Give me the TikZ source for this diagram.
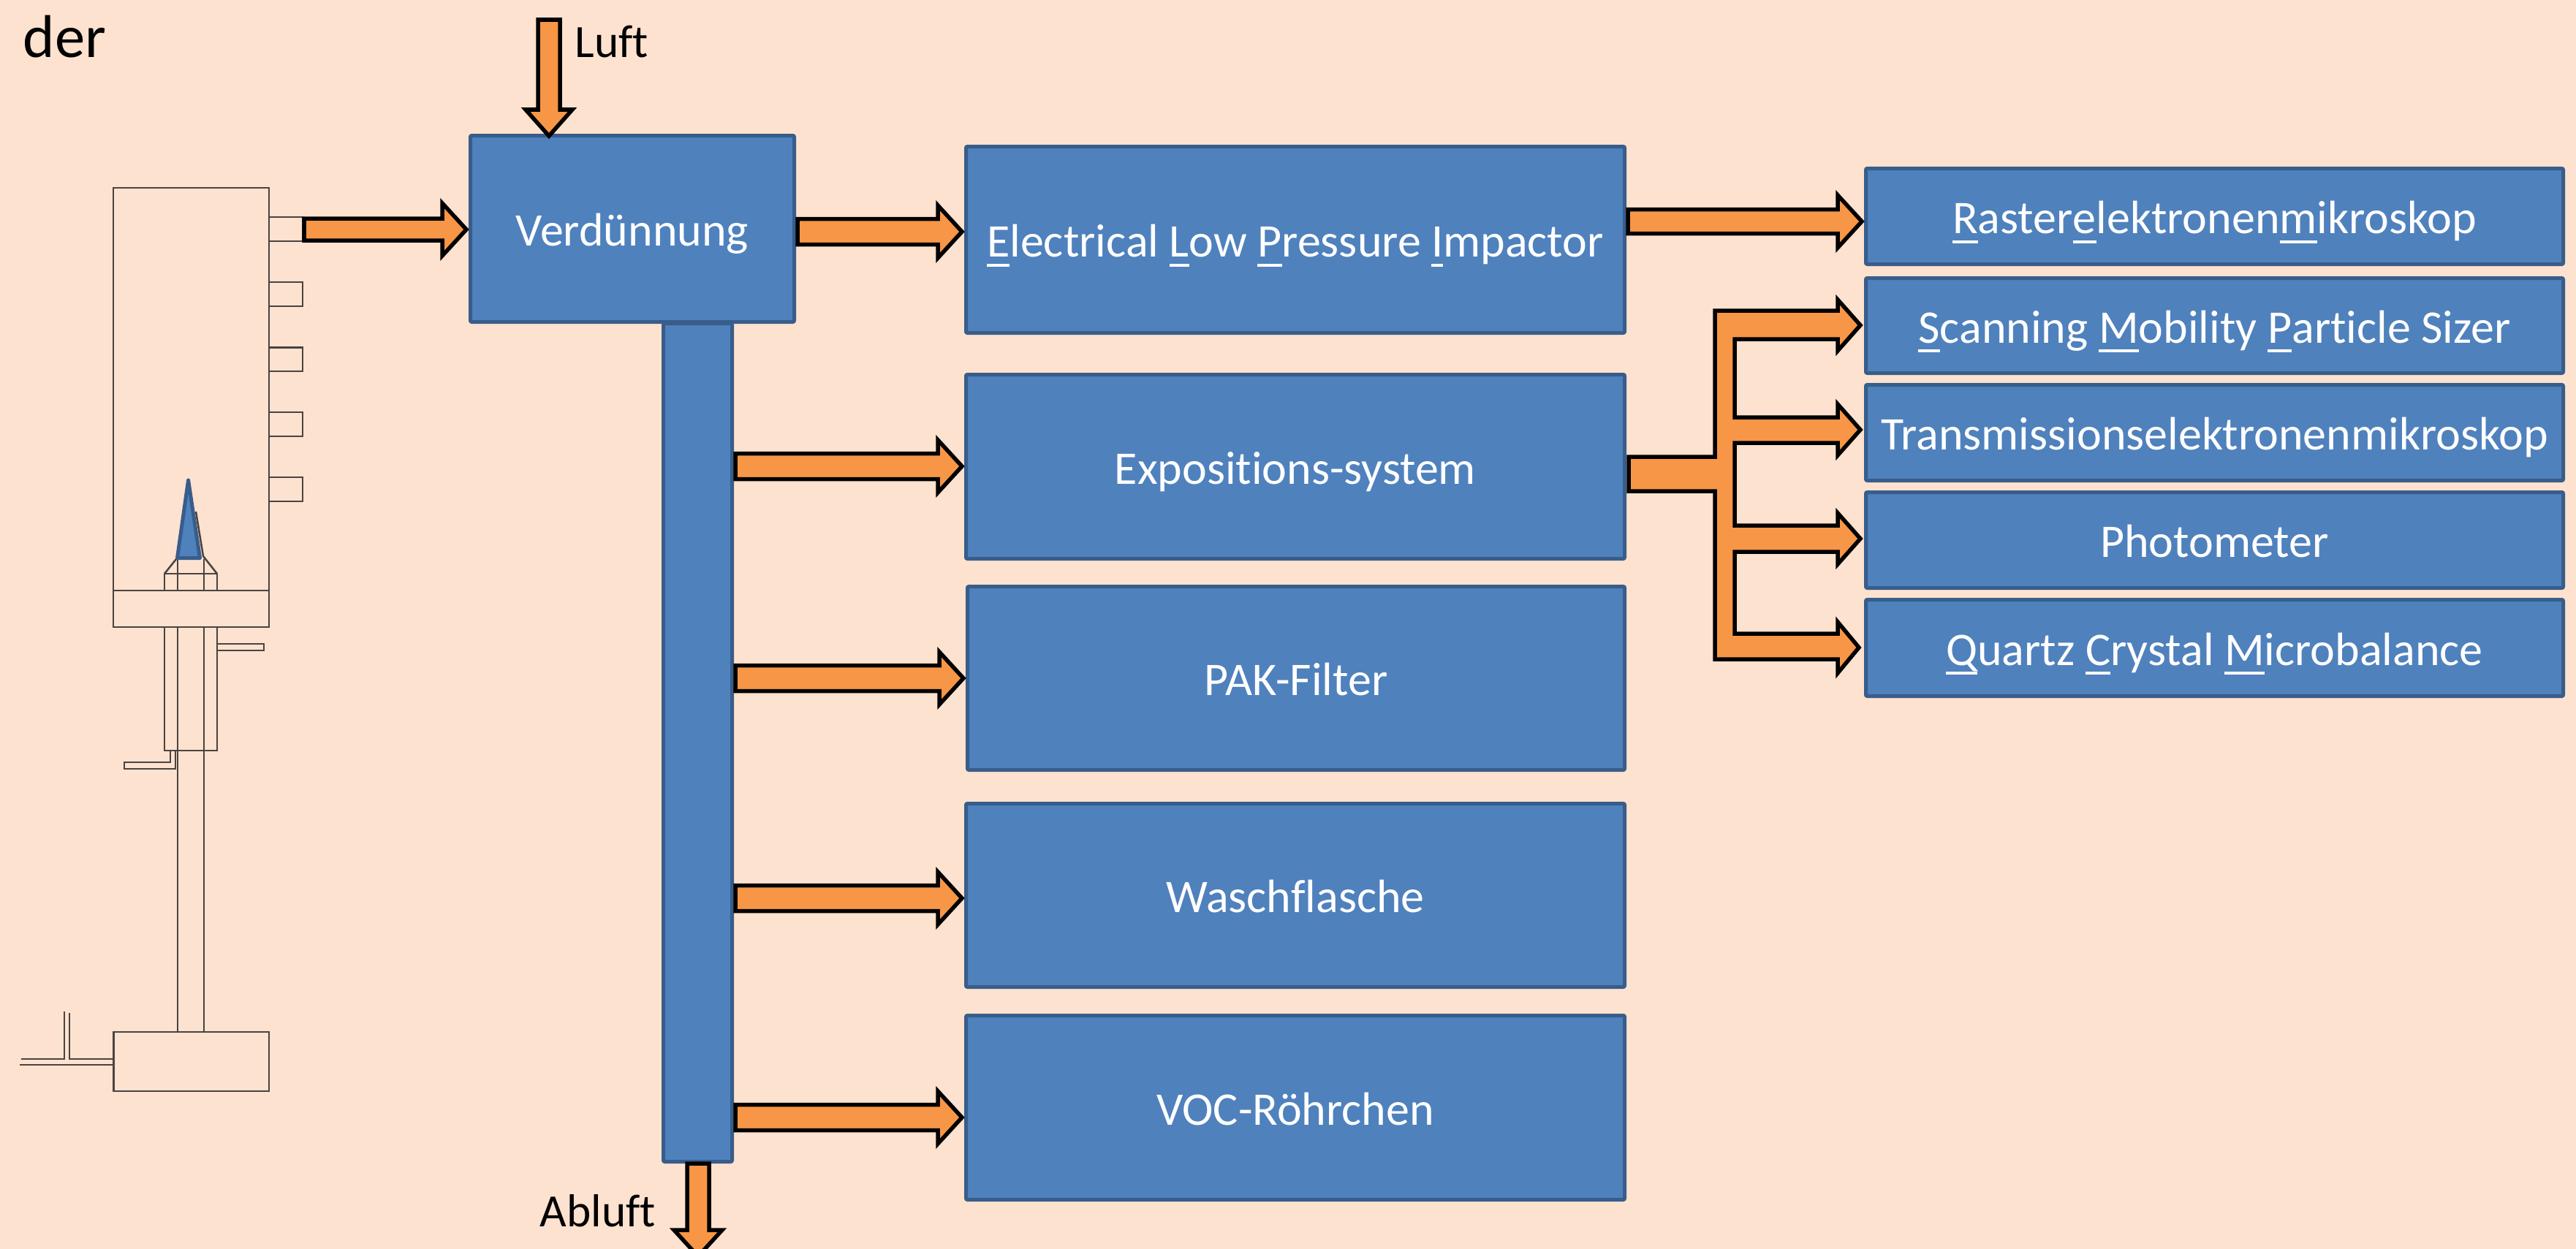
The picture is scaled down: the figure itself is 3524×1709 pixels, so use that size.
\documentclass[tikz,border=0pt]{standalone}
\usepackage{fontspec}
\setmainfont[Ligatures=CommonOff]{Carlito}
\usetikzlibrary{calc}
\definecolor{pagebg}{HTML}{FDE2D0}
\definecolor{boxblue}{HTML}{4F81BD}
\definecolor{boxedge}{HTML}{385D8A}
\definecolor{flow}{HTML}{F79646}
\definecolor{wire}{HTML}{4A4340}
\newcommand{\ull}[1]{\setbox0\hbox{#1}\rlap{\rule[-3.6pt]{\wd0}{1.1pt}}\box0}
\tikzset{
  bluebox/.style={draw=boxedge,fill=boxblue,line width=0.05cm,rounded corners=0.02cm,inner sep=0pt,
    text=white,font=\fontsize{18.2}{20}\selectfont,align=center,text height=17pt,text depth=3.4pt},
  blockarrow/.style={draw=black,fill=flow,line width=0.055cm,miter limit=10},
  wireline/.style={draw=wire,line width=0.025cm},
  portbox/.style={draw=wire,line width=0.025cm,inner sep=0pt,outer sep=0pt},
  plainlabel/.style={anchor=base west,inner sep=0pt,text=black,font=\fontsize{18}{20}\selectfont},
}
\newcommand{\bx}[6]{\node[bluebox,minimum width={(#4-#2-5)*0.01cm},minimum height={(#5-#3-5)*0.01cm}] (#1) at ({(#2+#4)/2},{(#3+#5)/2}) {#6};}
\newcommand{\port}[3]{\node[portbox,minimum width=0.46cm,minimum height={(#3-#2)*0.01cm}] (#1) at (391,{(#2+#3)/2}) {};}
% horizontal block arrow: from node, to node, y, half shaft
\newcommand{\rarrow}[4]{%
  \coordinate (s) at (#1.east |- 0,#3);
  \coordinate (t) at (#2.west |- 0,#3);
  \draw[blockarrow] ($(s)+(2,-#4)$) -- ($(t)+(-36,-#4)$) -- ($(t)+(-36,-36)$) -- ($(t)+(-3,0)$)
    -- ($(t)+(-36,36)$) -- ($(t)+(-36,#4)$) -- ($(s)+(2,#4)$) -- cycle;}
\begin{document}
\begin{tikzpicture}[x=0.01cm,y=-0.01cm]
\useasboundingbox (0,0) rectangle (3524,1709);
\clip (0,0) rectangle (3524,1709);
\fill[pagebg] (0,0) rectangle (3524,1709);

% apparatus
\draw[wireline] (155,257) rectangle (368,858);
\draw[wireline] (155,808) -- (368,808);
\port{port1}{297}{330}
\port{port2}{386}{419}
\port{port3}{475.5}{508}
\port{port4}{564}{597}
\port{port5}{653}{686}
\draw[wireline] (225,808) -- (225,785) -- (297,785) -- (297,808);
\draw[wireline] (225,785) -- (241,765);
\draw[wireline] (297,785) -- (278,761) -- (268,700);
\draw[wireline] (243,765) -- (243,808);
\draw[wireline] (279,765) -- (279,808);
\draw[wireline] (225,858) -- (225,1027) -- (297,1027) -- (297,858);
\draw[wireline] (243,858) -- (243,1412);
\draw[wireline] (279,858) -- (279,1412);
\draw[wireline] (297,881) -- (361,881) -- (361,890) -- (297,890);
\draw[wireline] (233,1027) -- (233,1043) -- (170,1043) -- (170,1052) -- (240,1052) -- (240,1027);
\draw[wireline] (155.5,1412) rectangle (368,1493);
\draw[wireline] (155.5,1449) -- (95,1449) -- (95,1386);
\draw[wireline] (88,1384) -- (88,1449) -- (29,1449);
\draw[wireline] (27,1457) -- (155.5,1457);
\draw[draw=boxedge,fill=boxblue,line width=0.05cm,line join=round] (257.6,657) -- (273.5,763.5) -- (242.5,763.5) -- cycle;

% process boxes
\bx{bar}{905}{440}{1004}{1592}{}
\bx{verd}{641}{183}{1089}{443}{Verdünnung}
\bx{elpi}{1319}{198}{2225}{458}{\ull{E}lectrical \ull{L}ow \ull{P}ressure \ull{I}mpactor}
\bx{expo}{1319}{510}{2225}{767}{Expositions-system}
\bx{pak}{1321}{800}{2225}{1056}{PAK-Filter}
\bx{wasch}{1319}{1097}{2225}{1353}{Waschflasche}
\bx{voc}{1319}{1387}{2225}{1644}{VOC-Röhrchen}
\bx{rem}{2550}{228}{3509}{364}{\ull{R}aster\ull{e}lektronen\ull{m}ikroskop}
\bx{smps}{2550}{378}{3509}{513}{\ull{S}canning \ull{M}obility \ull{P}article Sizer}
\bx{tem}{2550}{524}{3509}{660}{Transmissionselektronenmikroskop}
\bx{photo}{2550}{671}{3509}{807}{Photometer}
\bx{qcm}{2550}{818}{3509}{955}{\ull{Q}uartz \ull{C}rystal \ull{M}icrobalance}

% connectors
\rarrow{port1}{verd}{314}{15}
\rarrow{verd}{elpi}{317}{17.5}
\rarrow{bar}{expo}{638}{17.5}
\rarrow{bar}{pak}{928}{17.5}
\rarrow{bar}{wasch}{1229}{17.5}
\rarrow{bar}{voc}{1529}{17.5}
\rarrow{elpi}{rem}{303}{16.5}

\coordinate (luftstart) at (751,27);
\coordinate (luftend) at (verd.north -| 751,0);
\draw[blockarrow] ($(luftstart)+(-15,0)$) -- ($(luftend)+(-15,-33)$) -- ($(luftend)+(-32,-33)$) -- ($(luftend)+(0,3)$)
  -- ($(luftend)+(32,-33)$) -- ($(luftend)+(15,-33)$) -- ($(luftstart)+(15,0)$) -- cycle;
\coordinate (abluftstart) at (bar.south -| 955,0);
\coordinate (abluftend) at (955,1719);
\draw[blockarrow] ($(abluftstart)+(-15,0)$) -- ($(abluftend)+(-15,-36)$) -- ($(abluftend)+(-33,-36)$) -- (abluftend)
  -- ($(abluftend)+(33,-36)$) -- ($(abluftend)+(15,-36)$) -- ($(abluftstart)+(15,0)$) -- cycle;

% branching arrow
\coordinate (bt) at (expo.east |- 0,625);
\coordinate (bb) at (expo.east |- 0,672);
\coordinate (tipa) at (smps.west |- 0,445);
\coordinate (tipb) at (tem.west |- 0,588);
\coordinate (tipc) at (photo.west |- 0,737);
\coordinate (tipd) at (qcm.west |- 0,886);
\draw[blockarrow] ($(bt)+(3,0)$) -- (2346,625) -- (2346,425) -- (2514,425) -- (2514,410) -- ($(tipa)+(-5,0)$)
  -- (2514,480) -- (2514,464) -- (2373,464) -- (2373,571) -- (2514,571) -- (2514,553) -- ($(tipb)+(-5,0)$)
  -- (2514,623) -- (2514,606) -- (2373,606) -- (2373,719) -- (2514,719) -- (2514,702) -- ($(tipc)+(-5,0)$)
  -- (2514,772) -- (2514,755) -- (2373,755) -- (2373,867) -- (2514,867) -- (2514,851) -- ($(tipd)+(-7,0)$)
  -- (2514,921) -- (2514,902) -- (2346,902) -- (2346,672) -- ($(bb)+(3,0)$) -- cycle;

% free labels
\node[plainlabel] (luftlabel) at (786,78) {Luft};
\node[plainlabel] (abluftlabel) at (738,1678) {Abluft};
\node[plainlabel,font=\fontsize{23.5}{26}\selectfont] (derlabel) at (31,78) {der};
\end{tikzpicture}
\end{document}
